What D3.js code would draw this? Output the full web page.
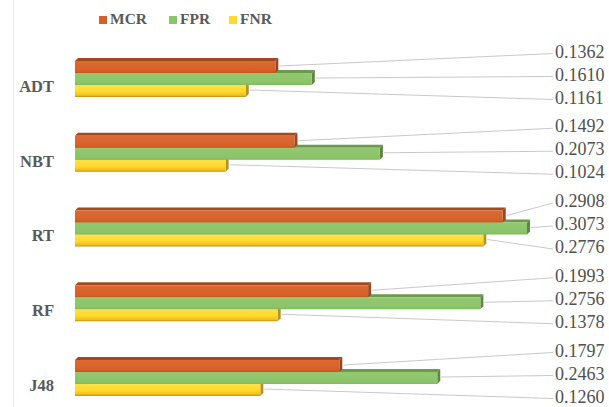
<!DOCTYPE html>
<html>
<head>
<meta charset="utf-8">
<script src="https://cdn.jsdelivr.net/npm/d3@7"></script>
<style>
  html, body { margin: 0; padding: 0; background: #fff; }
  svg { display: block; }
  text { font-family: "Liberation Serif", "Times New Roman", serif; }
</style>
</head>
<body>
<svg id="chart" width="609" height="407"></svg>
<script>
// Classifier error rates
const categories = ["ADT", "NBT", "RT", "RF", "J48"];
const seriesNames = ["MCR", "FPR", "FNR"];
const mcr = [0.1362, 0.1492, 0.2908, 0.1993, 0.1797];
const fpr = [0.1610, 0.2073, 0.3073, 0.2756, 0.2463];
const fnr = [0.1161, 0.1024, 0.2776, 0.1378, 0.1260];
const seriesValues = [mcr, fpr, fnr];

const colors = {
  MCR: { front: "#D6602A", top: "#A5481E", side: "#9C4520", light: "#DC6A34", dark: "#C4561F" },
  FPR: { front: "#8CC46A", top: "#6A9A4A", side: "#5B8A3C", light: "#92C971", dark: "#80B95E" },
  FNR: { front: "#FFDA2E", top: "#D9B020", side: "#B8911A", light: "#FFE24A", dark: "#E3B41E" }
};

const svg = d3.select("#chart");
const defs = svg.append("defs");

// vertical shading for each bar's front face
seriesNames.forEach(s => {
  const g = defs.append("linearGradient")
    .attr("id", "grad-" + s).attr("x1", 0).attr("y1", 0).attr("x2", 0).attr("y2", 1);
  const c = colors[s];
  if (s === "FNR") {
    g.append("stop").attr("offset", "0%").attr("stop-color", "#FFE14A");
    g.append("stop").attr("offset", "55%").attr("stop-color", "#FFD92A");
    g.append("stop").attr("offset", "85%").attr("stop-color", "#EFC020");
    g.append("stop").attr("offset", "100%").attr("stop-color", "#B89020");
  } else {
    g.append("stop").attr("offset", "0%").attr("stop-color", c.light);
    g.append("stop").attr("offset", "80%").attr("stop-color", c.front);
    g.append("stop").attr("offset", "100%").attr("stop-color", c.dark);
  }
});

// faint frame line on the left
svg.append("line")
  .attr("x1", 13.5).attr("x2", 13.5).attr("y1", 0).attr("y2", 407)
  .attr("stroke", "#e4ebef").attr("stroke-width", 1);

const x = d3.scaleLinear().domain([0, 0.3073]).range([75, 527]);
const yGroup = d3.scalePoint().domain(categories).range([79, 378]);
const ySeries = d3.scaleBand().domain(seriesNames).range([-18, 18]).padding(0);
const depth = 3;
const h = ySeries.bandwidth();

// Legend
const legend = svg.append("g").attr("class", "legend");
const legendX = [99, 169, 229];
seriesNames.forEach((s, i) => {
  legend.append("rect")
    .attr("x", legendX[i]).attr("y", 16).attr("width", 8).attr("height", 8)
    .attr("fill", colors[s].front);
  legend.append("text")
    .attr("x", legendX[i] + 11).attr("y", 20)
    .attr("dominant-baseline", "middle")
    .attr("font-weight", "bold").attr("font-size", 15.5)
    .attr("fill", "#595959")
    .text(s);
});

// Category labels
svg.append("g").selectAll("text")
  .data(categories).join("text")
  .attr("x", 54).attr("y", d => yGroup(d) + 9)
  .attr("text-anchor", "end").attr("dominant-baseline", "middle")
  .attr("font-weight", "bold").attr("font-size", 16.5)
  .attr("fill", "#595959")
  .text(d => d);

const bars = svg.append("g").attr("class", "bars");
const leaders = svg.append("g").attr("class", "leaders");
const labels = svg.append("g").attr("class", "labels");

categories.forEach((cat, ci) => {
  const cy = yGroup(cat);
  // draw bottom bar first so upper bars cover hidden top faces
  for (let si = seriesNames.length - 1; si >= 0; si--) {
    const s = seriesNames[si];
    const v = seriesValues[si][ci];
    const x0 = x(0), x1 = x(v);
    const y0 = cy + ySeries(s);
    const c = colors[s];
    const g = bars.append("g");
    // top face
    g.append("path")
      .attr("d", `M${x0},${y0} L${x0 + depth},${y0 - depth} L${x1 + depth},${y0 - depth} L${x1},${y0} Z`)
      .attr("fill", c.top);
    // right side face
    g.append("path")
      .attr("d", `M${x1},${y0} L${x1 + depth},${y0 - depth} L${x1 + depth},${y0 + h - depth} L${x1},${y0 + h} Z`)
      .attr("fill", c.side);
    // front face
    g.append("rect")
      .attr("x", x0).attr("y", y0).attr("width", x1 - x0).attr("height", h)
      .attr("fill", `url(#grad-${s})`);
  }
  // leader lines and value labels
  seriesNames.forEach((s, si) => {
    const v = seriesValues[si][ci];
    const by = cy + ySeries(s) + h / 2 - 1;
    const ly = cy + (si - 1) * 23 - 2.5;
    leaders.append("line")
      .attr("x1", x(v) + depth + 1).attr("y1", by)
      .attr("x2", 553).attr("y2", ly)
      .attr("stroke", "#c9c9c9").attr("stroke-width", 1);
    labels.append("text")
      .attr("x", 555).attr("y", ly)
      .attr("dominant-baseline", "middle")
      .attr("font-size", 18)
      .attr("fill", "#505050")
      .text(v.toFixed(4));
  });
});
</script>
</body>
</html>
